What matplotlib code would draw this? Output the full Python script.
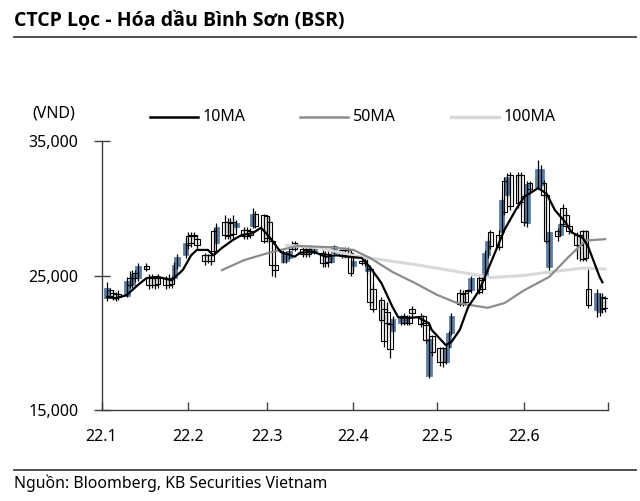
import matplotlib
matplotlib.use('Agg')
import matplotlib.pyplot as plt
import matplotlib.dates as mdates
from matplotlib.patches import Rectangle
from matplotlib.lines import Line2D
import pandas as pd

plt.rcParams['font.family'] = ['Noto Sans', 'DejaVu Sans']

# daily OHLC (VND), business days Jan 3 - Jun 30 2022
days = pd.bdate_range('2022-01-03', '2022-06-30')

opens = [
    # Jan
    23300, 23900, 23700, 23600, 23600, 23500, 24800, 24300, 25200, 24800, 25700,
    24900, 24800, 24800, 24800, 24800, 24800, 24800, 24800, 25700, 26500,
    # Feb
    27900, 28000, 28000, 27700, 26500, 26500, 26500, 28300, 27400, 29000,
    29000, 28900, 29000, 28600, 28400, 28400, 28300, 28700, 29600, 29500,
    # Mar
    29400, 29000, 27600, 25800, 26000, 26100, 26300, 27300, 27400, 27000, 26900, 27000,
    26800, 26700, 26700, 26600, 26600, 26000, 26700, 26900, 26900, 26900, 26700,
    # Apr
    25700, 26100, 26100, 25300, 25500, 24000, 23200, 22500, 22300, 21400, 20900,
    21500, 22000, 21500, 21900, 22500, 22000, 22000, 21300, 17500, 20500,
    # May
    19600, 19600, 18600, 19700, 20700, 23700, 23600, 23700, 23900, 23900, 24800,
    24700, 24900, 26500, 28200, 28000, 28200, 32000, 31000, 32500, 32500, 32500,
    # Jun
    30900, 28900, 31900, 31600, 31700, 31900, 31000, 25600, 28300, 28000, 30000,
    29500, 28700, 28000, 28000, 28300, 28300, 24000, 22400, 22300, 23400, 23300,
]
highs = [
    24500, 24100, 23900, 23800, 23900, 24900, 25300, 25400, 25400, 25900, 25900,
    25100, 25100, 25000, 25100, 25000, 25100, 25000, 26000, 26600, 27700,
    28200, 28200, 28200, 28000, 26700, 26600, 26700, 28500, 28900, 29500,
    29300, 29300, 29500, 29100, 28600, 28600, 28500, 30000, 29800, 29600,
    29500, 29400, 27800, 26000, 26900, 26800, 27000, 27600, 27600, 27200, 27100, 27200,
    27300, 27200, 26900, 26800, 26800, 26500, 27300, 27100, 27100, 27100, 26800,
    26400, 26200, 26300, 26200, 25700, 24400, 23400, 23000, 23000, 21600, 22000,
    22100, 22200, 22100, 22100, 22700, 22200, 22100, 21500, 20500, 20600,
    19700, 19700, 19800, 20900, 22200, 24000, 23900, 23900, 24000, 25000, 25000,
    24900, 26900, 27800, 28400, 28400, 30800, 32300, 32600, 32700, 32700, 32700,
    31100, 32000, 32000, 33600, 33200, 32100, 31200, 28400, 28500, 29000, 30300,
    29800, 28900, 28200, 28100, 28400, 28400, 25600, 24000, 23700, 23700, 23500,
]
lows = [
    23100, 23300, 23200, 23100, 23200, 23400, 24100, 24100, 24500, 24600, 25300,
    24000, 24100, 24000, 24100, 24000, 24100, 24100, 24600, 25500, 26300,
    27000, 27100, 27700, 27000, 25800, 25900, 25800, 26600, 27200, 27700,
    27700, 27700, 27800, 28400, 27700, 27700, 27800, 28500, 28500, 27400,
    27500, 27500, 25000, 24900, 25900, 25900, 26200, 26900, 26800, 26400, 26400, 26400,
    26700, 26600, 25600, 25600, 25600, 25900, 26600, 26300, 26300, 26300, 25000,
    25300, 25800, 25700, 25100, 22700, 22300, 21500, 19700, 21200, 18900, 20700,
    21300, 21300, 21300, 21300, 21900, 21200, 21300, 20000, 17400, 19000,
    18300, 18200, 18400, 19600, 20600, 22700, 22700, 22800, 23700, 23700, 23600,
    23700, 24700, 26300, 27000, 26900, 28000, 29500, 30800, 29900, 30000, 30100,
    28700, 28600, 31200, 31400, 31500, 30800, 27400, 25200, 27600, 27900, 28700,
    28500, 28100, 26200, 26100, 26100, 26100, 22600, 21900, 22000, 22200, 22300,
]
closes = [
    24100, 23500, 23400, 23300, 23400, 24600, 24300, 25100, 24800, 25700, 25500,
    24300, 24300, 24300, 24400, 24300, 24300, 24400, 25800, 26400, 27400,
    27300, 27400, 27900, 27300, 26100, 26100, 26100, 26800, 28600, 28000,
    27900, 28000, 28100, 28900, 27900, 27900, 28000, 29600, 28700, 27600,
    27800, 27800, 25800, 25400, 26700, 26600, 26800, 27000, 27000, 26600, 26600, 26600,
    27100, 27000, 25900, 25900, 26000, 26400, 27200, 26500, 26500, 26500, 25200,
    26100, 25900, 25900, 25800, 23000, 22500, 21700, 20100, 21500, 19500, 21800,
    21900, 21500, 21900, 21500, 22200, 21400, 21500, 20200, 20300, 19300,
    18600, 18600, 19600, 20700, 22000, 22900, 22900, 23000, 23850, 24800, 23800,
    24000, 26700, 27600, 27200, 27100, 30600, 29700, 32300, 30200, 30400, 30500,
    29000, 31800, 31400, 32900, 32900, 31000, 27600, 28200, 27900, 28800, 28800,
    28700, 28300, 27300, 27300, 26200, 26300, 22800, 23700, 23400, 22500, 22600,
]

# moving averages
ma10_dates = ['2022-01-03', '2022-01-06', '2022-01-10', '2022-01-14', '2022-01-17',
              '2022-01-21', '2022-01-24', '2022-01-26', '2022-01-30', '2022-02-02',
              '2022-02-04', '2022-02-08', '2022-02-10', '2022-02-13', '2022-02-17',
              '2022-02-20', '2022-02-24', '2022-02-27', '2022-03-02', '2022-03-06',
              '2022-03-11', '2022-03-13', '2022-03-18', '2022-03-22', '2022-03-26',
              '2022-03-30', '2022-04-04', '2022-04-07', '2022-04-11', '2022-04-15',
              '2022-04-17', '2022-04-21', '2022-04-24', '2022-04-28', '2022-04-29',
              '2022-05-04', '2022-05-06', '2022-05-09', '2022-05-12', '2022-05-16',
              '2022-05-18', '2022-05-22', '2022-05-25', '2022-05-29', '2022-06-01',
              '2022-06-06', '2022-06-09', '2022-06-12', '2022-06-16', '2022-06-18',
              '2022-06-22', '2022-06-24', '2022-06-28', '2022-06-29']
ma10 = [23400, 23300, 23550, 24300, 24800, 24900, 24750, 24650, 25400, 26500,
        26900, 26900, 26500, 27050, 27650, 28000, 28150, 28550, 27860, 26750,
        26400, 26700, 26750, 26400, 26500, 26400, 26300, 25600, 24440, 22650,
        21900, 21850, 21900, 21450, 20950, 19830, 20050, 20950, 22650, 23900,
        24900, 26900, 28400, 29870, 30840, 31500, 31100, 29870, 28900, 28200,
        27800, 27100, 24900, 24500]

ma50_dates = ['2022-02-13', '2022-02-21', '2022-03-02', '2022-03-12', '2022-03-24',
              '2022-04-01', '2022-04-07', '2022-04-15', '2022-04-23', '2022-05-01',
              '2022-05-08', '2022-05-19', '2022-05-25', '2022-06-01', '2022-06-10',
              '2022-06-17', '2022-06-23', '2022-06-30']
ma50 = [25400, 26150, 26700, 27200, 27100, 26900, 26300, 25260, 24440, 23550,
        22960, 22600, 22950, 23900, 24900, 26400, 27600, 27700]

ma100_dates = ['2022-03-08', '2022-03-20', '2022-04-03', '2022-04-12', '2022-04-24',
               '2022-05-05', '2022-05-12', '2022-05-20', '2022-06-01', '2022-06-10',
               '2022-06-22', '2022-06-30']
ma100 = [27250, 27050, 26400, 26150, 25780, 25400, 25150, 24850, 25000, 25260,
         25550, 25480]

month_labels = ['22.1', '22.2', '22.3', '22.4', '22.5', '22.6']

blue = '#5b7fa6'
dark = '#404040'

fig = plt.figure(figsize=(6.4, 5.01), dpi=100)
ax = fig.add_axes([101.6 / 640, 1 - 410 / 501, (608 - 101.6) / 640, 269 / 501])

xs = mdates.date2num(days)
w = 2.0
for x, o, h, l, c in zip(xs, opens, highs, lows, closes):
    ax.vlines(x, l, h, color='black', lw=0.9, zorder=3)
    if c > o:
        ax.add_patch(Rectangle((x - w / 2, o), w, c - o, facecolor=blue,
                               edgecolor=blue, lw=0.6, zorder=2))
    else:
        ax.add_patch(Rectangle((x - w / 2, c), w, max(o - c, 60), facecolor='none',
                               edgecolor='black', lw=0.8, zorder=3))

ax.plot(pd.to_datetime(ma100_dates), ma100, color='#d9d9d9', lw=2.2, zorder=4)
ax.plot(pd.to_datetime(ma50_dates), ma50, color='#8c8c8c', lw=1.6, zorder=5)
ax.plot(pd.to_datetime(ma10_dates), ma10, color='black', lw=1.6, zorder=6)

ax.set_xlim(pd.Timestamp('2022-01-01'), pd.Timestamp('2022-07-01'))
ax.set_ylim(15000, 35000)
ticks = pd.date_range('2022-01-01', '2022-07-01', freq='MS')
ax.set_xticks(ticks)
ax.set_xticklabels(month_labels + [''])
ax.set_yticks([15000, 25000, 35000])
ax.set_yticklabels(['15,000', '25,000', '35,000'])

for s in ['top', 'right']:
    ax.spines[s].set_visible(False)
for s in ['left', 'bottom']:
    ax.spines[s].set_color(dark)
    ax.spines[s].set_linewidth(1)
ax.tick_params(axis='y', direction='inout', length=11, width=1, color=dark,
               labelsize=11.5, pad=11)
ax.tick_params(axis='x', direction='in', length=6, width=1, color=dark,
               labelsize=11.5, pad=14)

# title, rules, source
fig.text(14 / 640, 1 - 21 / 501, 'CTCP Lọc - Hóa dầu Bình Sơn (BSR)',
         fontsize=14, fontweight='bold', family=['Open Sans', 'DejaVu Sans'],
         va='center', ha='left')
fig.add_artist(Line2D([14 / 640, 636 / 640], [1 - 37 / 501] * 2, color=dark, lw=1.3))
fig.add_artist(Line2D([14 / 640, 636 / 640], [1 - 470 / 501] * 2, color=dark, lw=1.3))
fig.text(14 / 640, 1 - 483 / 501, 'Nguồn: Bloomberg, KB Securities Vietnam',
         fontsize=11.4, va='center', ha='left')
fig.text(54 / 640, 1 - 113 / 501, '(VND)', fontsize=11.5, va='center', ha='center')

# legend
leg = [('10MA', 'black', 1.8, 150), ('50MA', '#8c8c8c', 1.8, 300), ('100MA', '#d9d9d9', 2.5, 451)]
for name, col, lw, x0 in leg:
    fig.add_artist(Line2D([x0 / 640, (x0 + 48) / 640], [1 - 117 / 501] * 2, color=col, lw=lw))
    fig.text((x0 + 53) / 640, 1 - 117 / 501, name, fontsize=11.5, va='center', ha='left')

plt.savefig('out.png', dpi=100)
